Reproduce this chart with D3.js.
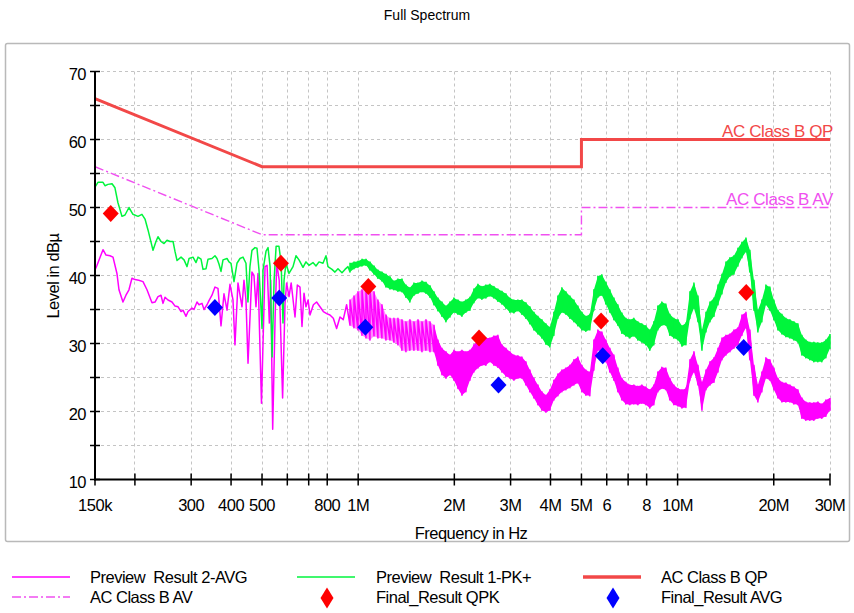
<!DOCTYPE html>
<html>
<head>
<meta charset="utf-8">
<script src="https://cdn.jsdelivr.net/npm/d3@7"></script>
<style>
  html, body { margin: 0; padding: 0; background: #fff; }
  svg { display: block; font-family: "Liberation Sans", Arial, sans-serif; }
  text { white-space: pre; }
</style>
</head>
<body>
<svg id="chart" width="854" height="613"></svg>
<script>
// ---- Axis ticks (frequency in MHz, level in dBµV) ----
const xTickValues = [0.15, 0.2, 0.3, 0.4, 0.5, 0.6, 0.7, 0.8, 1, 2, 3, 4, 5, 6, 7, 8, 10, 20, 30];
const xTickLabels = ["150k", "", "300", "400", "500", "", "", "800", "1M", "2M", "3M", "4M", "5M", "6", "", "8", "10M", "20M", "30M"];
const yTickValues = [10, 15, 20, 25, 30, 35, 40, 45, 50, 55, 60, 65, 70];

// ---- Limit lines (EN 55032 class B, conducted) ----
const qpLimitFreq = [0.15, 0.5, 5, 5, 30];
const qpLimitLevel = [66, 56, 56, 60, 60];
const avLimitFreq = [0.15, 0.5, 5, 5, 30];
const avLimitLevel = [56, 46, 46, 50, 50];

// ---- Preview 1 (PK+), 150 kHz .. 0.93 MHz ----
const pkLowFreq = [0.150,0.1532,0.1589,0.1612,0.1647,0.1696,0.1732,0.1770,0.1822,0.1862,0.1916,0.1972,0.2045,0.2104,0.2151,0.2198,0.2279,0.2328,0.2362,0.2414,0.2467,0.2521,0.2576,0.2633,0.2671,0.2710,0.2789,0.2850,0.2912,0.2955,0.3041,0.3107,0.3152,0.3221,0.3268,0.3340,0.3388,0.3486,0.3562,0.3614,0.3666,0.3720,0.3774,0.3885,0.3941,0.3998,0.4086,0.4174,0.4266,0.4359,0.4454,0.4518,0.4583,0.4650,0.4753,0.4822,0.4893,0.5000,0.5036,0.5147,0.5222,0.5299,0.5376,0.5455,0.5535,0.5650,0.5739,0.5816,0.5860,0.5943,0.6073,0.6252,0.6388,0.6528,0.6718,0.6864,0.7015,0.7219,0.7377,0.7539,0.7759,0.7929,0.8043,0.8279,0.8459,0.8646,0.8899,0.9093,0.9292];
const pkLowLevel = [53.0,53.7,53.7,53.2,53.4,53.5,52.9,50.7,48.7,48.9,50.0,49.0,48.7,49.0,48.3,46.7,43.7,45.0,45.7,45.0,44.7,45.2,45.0,45.0,43.5,42.2,42.7,42.3,41.3,42.5,42.7,41.9,42.7,42.4,40.9,41.0,42.4,42.5,42.9,42.5,41.7,40.6,42.3,42.5,42.0,41.8,39.1,41.8,42.5,42.7,41.8,36.1,41.3,43.7,44.1,44.0,40.8,32.2,40.8,43.6,44.1,41.3,28.0,39.3,44.3,44.3,41.8,33.0,39.3,41.8,40.3,41.3,42.9,42.3,41.2,42.0,41.5,41.9,41.4,42.0,41.8,42.9,41.3,40.9,40.5,41.0,40.4,40.9,41.3];

// ---- Preview 2 (AVG), 150 kHz .. 0.92 MHz ----
const avLowFreq = [0.150,0.1522,0.1589,0.1624,0.1671,0.1708,0.1757,0.1783,0.1835,0.1875,0.1916,0.1958,0.2001,0.2056,0.2120,0.2182,0.2262,0.2312,0.2362,0.2414,0.2449,0.2485,0.2539,0.2613,0.2671,0.2730,0.2789,0.2829,0.2891,0.2933,0.3019,0.3062,0.3129,0.3175,0.3244,0.3292,0.3364,0.3412,0.3486,0.3562,0.3640,0.3720,0.3801,0.3885,0.3969,0.4056,0.4114,0.4204,0.4328,0.4390,0.4454,0.4520,0.4650,0.4718,0.4787,0.4857,0.4980,0.5110,0.5185,0.5271,0.5324,0.5400,0.5495,0.5560,0.5660,0.5800,0.5902,0.5970,0.6073,0.6170,0.6342,0.6450,0.6574,0.6670,0.6767,0.6864,0.6970,0.7065,0.7240,0.7410,0.7593,0.7780,0.7970,0.8159,0.8360,0.8560,0.8772,0.8980,0.9200];
const avLowLevel = [40.8,41.5,43.8,43.0,42.9,42.7,40.3,37.9,36.1,37.1,37.9,39.6,39.4,39.3,39.1,37.9,36.0,36.1,36.9,37.1,35.9,36.8,36.4,36.1,35.5,35.4,34.7,34.9,34.0,34.7,35.2,35.0,36.1,35.7,35.9,35.0,35.7,36.3,37.1,38.3,38.1,32.6,37.3,34.9,38.7,36.4,29.8,38.9,35.4,39.3,36.4,27.1,40.5,40.0,35.4,40.3,21.2,41.3,41.5,33.0,39.3,17.4,33.9,41.8,39.3,22.0,35.9,38.9,36.9,38.9,33.9,38.6,38.3,32.5,37.4,35.4,36.4,34.2,35.7,36.1,35.4,34.7,34.4,34.2,33.7,32.2,33.9,33.5,35.7];

// ---- Sweep 0.94 .. 30 MHz: per-bin min / max of each preview ----
const sweepFreq = [0.9426,0.9702,0.9986,1.028,1.058,1.089,1.121,1.153,1.187,1.222,1.258,1.294,1.332,1.371,1.411,1.452,1.495,1.539,1.584,1.630,1.678,1.727,1.777,1.829,1.883,1.938,1.994,2.053,2.113,2.174,2.238,2.303,2.371,2.440,2.511,2.585,2.660,2.738,2.818,2.901,2.986,3.073,3.163,3.255,3.350,3.448,3.549,3.653,3.760,3.870,3.983,4.099,4.219,4.343,4.470,4.600,4.735,4.873,5.016,5.162,5.313,5.469,5.629,5.793,5.963,6.137,6.317,6.501,6.691,6.887,7.088,7.296,7.509,7.729,7.955,8.187,8.427,8.673,8.927,9.188,9.456,9.733,10.03,10.32,10.62,10.93,11.25,11.58,11.92,12.27,12.63,13.00,13.38,13.77,14.17,14.58,15.01,15.45,15.90,16.37,16.84,17.34,17.84,18.36,18.90,19.45,20.02,20.61,21.21,21.83,22.47,23.13,23.80,24.50,25.21,25.95,26.71,27.49,28.29,29.12,30.0];
const pkSweepMax = [41.8,42.0,42.1,42.4,42.4,42.0,41.4,40.8,40.5,40.2,39.8,39.2,39.5,39.5,38.6,38.2,38.9,38.9,39.2,39.0,38.5,37.6,36.7,36.1,35.5,36.1,36.7,36.4,36.1,36.4,36.8,38.0,38.7,38.4,38.6,38.7,38.4,38.0,37.7,37.3,36.7,36.4,36.4,36.4,36.0,35.4,34.6,34.0,33.5,32.9,32.4,34.6,37.0,38.2,37.6,37.0,36.4,35.5,34.6,34.0,34.3,37.9,39.9,40.1,39.0,37.9,36.7,35.7,34.5,33.7,33.5,33.7,33.2,32.9,32.6,32.0,33.2,35.5,36.1,35.8,34.3,33.7,33.5,32.6,33.0,37.6,38.9,37.0,32.0,34.6,36.1,36.7,38.6,40.2,42.0,42.6,42.9,44.0,44.9,45.5,43.7,39.3,34.9,36.4,38.6,38.3,36.4,34.9,34.3,33.7,33.5,33.2,32.9,31.2,30.5,30.2,30.2,30.1,30.1,30.5,31.4];
const pkSweepMin = [40.5,41.0,41.2,41.4,41.5,40.8,40.2,39.6,39.2,38.3,38.0,37.9,37.7,37.6,36.8,36.1,37.1,37.4,37.6,37.4,36.8,35.7,34.8,34.0,33.2,33.9,34.6,34.3,34.0,34.6,34.9,36.0,36.7,36.5,36.7,37.0,36.7,36.2,35.8,35.2,34.6,34.5,34.8,34.3,33.7,32.9,32.0,31.4,30.8,29.9,29.5,31.2,33.7,34.6,34.3,33.7,33.2,32.6,32.0,31.8,32.0,34.9,36.8,37.1,35.8,34.6,33.5,32.7,31.5,31.1,30.8,31.1,30.5,30.2,29.8,29.0,29.8,32.0,32.7,32.7,31.2,30.8,30.5,29.6,29.8,33.7,35.2,33.2,29.0,31.7,33.2,34.0,35.7,37.3,39.0,39.9,40.2,41.4,42.6,43.5,40.5,34.9,31.7,33.2,35.7,34.9,33.5,32.0,31.4,31.0,30.8,30.5,30.2,28.3,27.9,27.6,27.3,27.3,27.3,27.9,29.3];
const avSweepMax = [36.4,37.0,37.6,37.9,38.2,37.9,37.6,36.4,35.7,34.2,33.7,33.7,33.7,33.5,33.2,33.5,33.2,33.5,33.2,33.5,33.2,32.7,30.5,29.3,28.8,28.3,29.0,28.8,29.0,28.8,29.0,29.8,30.5,30.5,30.8,30.8,31.1,31.2,29.8,29.3,28.8,28.3,28.2,28.0,27.3,26.1,24.9,23.9,22.9,22.4,23.2,24.6,25.5,26.1,26.4,26.8,27.6,28.0,26.8,26.1,25.8,30.5,32.0,31.7,30.5,29.3,28.3,26.4,24.9,24.3,23.9,23.9,23.7,23.9,23.6,23.2,23.9,25.8,26.5,26.4,24.9,23.9,23.4,23.2,23.4,27.6,28.8,26.8,24.3,26.1,27.3,27.9,29.3,30.8,31.2,31.4,32.0,32.3,34.2,34.6,32.0,26.8,23.9,25.8,27.9,27.6,26.4,24.9,24.3,24.2,23.9,23.6,23.2,22.0,21.4,21.3,21.3,21.4,21.1,21.7,22.0];
const avSweepMin = [32.7,32.3,32.0,31.2,30.8,30.5,31.1,30.8,30.8,30.5,30.5,30.2,29.8,29.0,28.8,29.0,29.0,29.0,28.8,29.0,28.8,28.8,26.8,25.4,24.9,25.4,24.6,23.4,22.4,22.9,24.6,25.8,26.4,26.8,26.8,27.3,26.8,26.5,25.8,25.2,24.9,24.6,24.9,24.9,23.9,22.9,22.0,21.0,20.2,19.9,20.2,21.7,22.3,22.9,23.2,23.5,23.9,24.2,22.9,22.4,22.3,26.1,29.0,28.8,27.3,25.8,24.6,22.9,21.7,21.1,21.0,21.1,21.0,21.2,21.0,20.5,21.0,22.9,23.4,23.2,21.7,21.0,20.8,20.5,20.6,24.6,25.8,23.9,20.2,23.2,23.9,24.3,25.8,27.6,28.3,28.8,29.3,29.8,31.2,32.3,27.6,22.4,21.4,22.9,24.9,24.6,23.2,22.0,21.4,21.4,21.4,21.1,21.0,19.0,18.7,18.7,18.7,19.0,19.0,19.3,20.2];

// ---- Final measurements ----
const qpkFreq = [0.168, 0.573, 1.076, 2.39, 5.76, 16.4];
const qpkLevel = [49.1, 41.8, 38.4, 30.8, 33.3, 37.5];
const avgFreq = [0.356, 0.566, 1.053, 2.75, 5.83, 16.1];
const avgLevel = [35.3, 36.7, 32.4, 23.9, 28.2, 29.4];

// ---- Drawing ----
const svg = d3.select("#chart");
const plot = { left: 95, right: 830, top: 71.5, bottom: 479.5 };

const x = d3.scaleLog().domain([0.15, 30]).range([plot.left, plot.right]);
const y = d3.scaleLinear().domain([10, 70]).range([plot.bottom, plot.top]);

const colors = {
  qpLimit: "#f24848",
  avLimit: "#f050f0",
  avTrace: "#ff00ff",
  pkTrace: "#00f53c",
  qpk: "#ff0000",
  avg: "#0000ff"
};

// outer frame
svg.append("rect")
  .attr("x", 5.5).attr("y", 43.5).attr("width", 844).attr("height", 498)
  .attr("rx", 2).attr("fill", "none").attr("stroke", "#b9b9b9").attr("stroke-width", 1.5);

// title
svg.append("text").attr("x", 427).attr("y", 20).attr("text-anchor", "middle")
  .attr("font-size", 14).attr("fill", "#000").text("Full Spectrum");

// grid
const grid = svg.append("g").attr("stroke", "#c4c4c4").attr("stroke-width", 1)
  .attr("stroke-dasharray", "3,3");
grid.selectAll("line.v").data(xTickValues.slice(1)).join("line")
  .attr("x1", d => Math.floor(x(d)) + 0.5).attr("x2", d => Math.floor(x(d)) + 0.5)
  .attr("y1", plot.top).attr("y2", plot.bottom);
grid.selectAll("line.h").data(yTickValues.slice(1)).join("line")
  .attr("x1", plot.left).attr("x2", plot.right)
  .attr("y1", d => Math.floor(y(d)) + 0.5).attr("y2", d => Math.floor(y(d)) + 0.5);

// clip for data
svg.append("defs").append("clipPath").attr("id", "plotClip")
  .append("rect").attr("x", plot.left).attr("y", plot.top - 2)
  .attr("width", plot.right - plot.left + 1).attr("height", plot.bottom - plot.top + 2);

const line = d3.line().x(d => x(d[0])).y(d => y(d[1]));
const data = svg.append("g").attr("clip-path", "url(#plotClip)");

// limit lines (the AV line gets a white underlay so the grid does not show through)
const avLimitPts = d3.zip(avLimitFreq, avLimitLevel);
data.append("path").datum(avLimitPts).attr("d", line)
  .attr("fill", "none").attr("stroke", "#fff").attr("stroke-width", 2);
data.append("path").datum(avLimitPts).attr("d", line)
  .attr("fill", "none").attr("stroke", colors.avLimit).attr("stroke-width", 1.4)
  .attr("stroke-dasharray", "9,3,2,3");
data.append("path").datum(d3.zip(qpLimitFreq, qpLimitLevel)).attr("d", line)
  .attr("fill", "none").attr("stroke", colors.qpLimit).attr("stroke-width", 3);

// preview traces: single-valued low band, then min/max per sweep bin
function tracePoints(lowF, lowV, sMin, sMax) {
  const pts = d3.zip(lowF, lowV);
  sweepFreq.forEach((f, i) => { pts.push([f, sMin[i]], [f, sMax[i]]); });
  return pts;
}
const band = d3.area().x(d => x(d[0])).y0(d => y(d[1])).y1(d => y(d[2]));

// solidFrom: frequency (MHz) above which the min/max bins merge into a solid band;
// below it the band is only lightly filled behind the zigzag
function drawTrace(lowF, lowV, sMin, sMax, color, solidFrom) {
  const bins = d3.zip(sweepFreq, sMin, sMax);
  const light = bins.filter(d => d[0] <= solidFrom * 1.03);
  const solid = bins.filter(d => d[0] >= solidFrom);
  if (light.length > 1) {
    data.append("path").datum(light).attr("d", band)
      .attr("fill", color).attr("fill-opacity", 0.45).attr("stroke", "none");
  }
  data.append("path").datum(solid).attr("d", band)
    .attr("fill", color).attr("stroke", "none");
  data.append("path").datum(tracePoints(lowF, lowV, sMin, sMax))
    .attr("d", line).attr("fill", "none").attr("stroke", color)
    .attr("stroke-width", 1.5).attr("stroke-linejoin", "round");
}
drawTrace(avLowFreq, avLowLevel, avSweepMin, avSweepMax, colors.avTrace, 1.7);
drawTrace(pkLowFreq, pkLowLevel, pkSweepMin, pkSweepMax, colors.pkTrace, 0.9);

// diamonds
function diamond(w, h) {
  return `M0,${-h}L${w},0L0,${h}L${-w},0Z`;
}
svg.append("g").selectAll("path").data(d3.zip(qpkFreq, qpkLevel)).join("path")
  .attr("d", diamond(8, 8.5)).attr("transform", d => `translate(${x(d[0])},${y(d[1])})`)
  .attr("fill", colors.qpk);
svg.append("g").selectAll("path").data(d3.zip(avgFreq, avgLevel)).join("path")
  .attr("d", diamond(8, 8.5)).attr("transform", d => `translate(${x(d[0])},${y(d[1])})`)
  .attr("fill", colors.avg);

// limit labels
svg.append("text").attr("x", 833).attr("y", 137).attr("text-anchor", "end")
  .attr("font-size", 17).attr("fill", colors.qpLimit).attr("letter-spacing", -0.4)
  .text("AC Class B QP");
svg.append("text").attr("x", 833).attr("y", 205).attr("text-anchor", "end")
  .attr("font-size", 17).attr("fill", colors.avLimit).attr("letter-spacing", -0.4)
  .text("AC Class B AV");

// axes
const axisG = svg.append("g").attr("stroke", "#000");
axisG.append("line").attr("x1", plot.left).attr("x2", plot.left)
  .attr("y1", plot.top).attr("y2", plot.bottom + 1).attr("stroke-width", 2);
axisG.append("line").attr("x1", plot.left - 1).attr("x2", plot.right)
  .attr("y1", plot.bottom).attr("y2", plot.bottom).attr("stroke-width", 2);
axisG.selectAll("line.yt").data(yTickValues).join("line")
  .attr("x1", plot.left - 5).attr("x2", plot.left + 5)
  .attr("y1", d => y(d)).attr("y2", d => y(d)).attr("stroke-width", 1.5);
axisG.selectAll("line.xt").data(xTickValues).join("line")
  .attr("x1", d => x(d)).attr("x2", d => x(d))
  .attr("y1", plot.bottom - 6).attr("y2", plot.bottom + 6).attr("stroke-width", 1.5);

svg.append("g").selectAll("text").data(yTickValues.filter(v => v % 10 === 0)).join("text")
  .attr("x", 86).attr("y", d => y(d) + 8).attr("text-anchor", "end")
  .attr("font-size", 16.5).attr("letter-spacing", -0.5).text(d => d);
svg.append("g").selectAll("text").data(d3.zip(xTickValues, xTickLabels)).join("text")
  .attr("x", d => x(d[0])).attr("y", 511).attr("text-anchor", "middle")
  .attr("font-size", 16.5).attr("letter-spacing", -0.5).text(d => d[1]);

svg.append("text").attr("x", 471).attr("y", 539).attr("text-anchor", "middle")
  .attr("font-size", 16.5).attr("letter-spacing", -0.5).text("Frequency in Hz");
svg.append("text").attr("transform", "translate(59,276) rotate(-90)")
  .attr("text-anchor", "middle").attr("font-size", 16.5).attr("letter-spacing", -0.5)
  .text("Level in dBµ");

// legend
const legend = svg.append("g").attr("font-size", 16.5).attr("letter-spacing", -0.5);
const rowY = [577, 597];
const colX = [12, 297, 583];
const textX = [90, 376, 661];
legend.append("line").attr("x1", colX[0]).attr("x2", colX[0] + 58).attr("y1", rowY[0]).attr("y2", rowY[0])
  .attr("stroke", colors.avTrace).attr("stroke-width", 1.5);
legend.append("line").attr("x1", colX[1]).attr("x2", colX[1] + 58).attr("y1", rowY[0]).attr("y2", rowY[0])
  .attr("stroke", colors.pkTrace).attr("stroke-width", 1.5);
legend.append("line").attr("x1", colX[2]).attr("x2", colX[2] + 58).attr("y1", rowY[0]).attr("y2", rowY[0])
  .attr("stroke", colors.qpLimit).attr("stroke-width", 3.5);
legend.append("line").attr("x1", colX[0]).attr("x2", colX[0] + 58).attr("y1", rowY[1]).attr("y2", rowY[1])
  .attr("stroke", colors.avLimit).attr("stroke-width", 1.4).attr("stroke-dasharray", "9,3,2,3");
legend.append("path").attr("d", diamond(6.5, 10.5)).attr("transform", `translate(${colX[1] + 30},${rowY[1] + 1})`)
  .attr("fill", colors.qpk);
legend.append("path").attr("d", diamond(6.5, 10.5)).attr("transform", `translate(${colX[2] + 30},${rowY[1] + 1})`)
  .attr("fill", colors.avg);
const legendText = [
  ["Preview  Result 2-AVG", 0, 0], ["Preview  Result 1-PK+", 1, 0], ["AC Class B QP", 2, 0],
  ["AC Class B AV", 0, 1], ["Final_Result QPK", 1, 1], ["Final_Result AVG", 2, 1]
];
legend.selectAll("text").data(legendText).join("text")
  .attr("x", d => textX[d[1]]).attr("y", d => rowY[d[2]] + 6).text(d => d[0]);
</script>
</body>
</html>
